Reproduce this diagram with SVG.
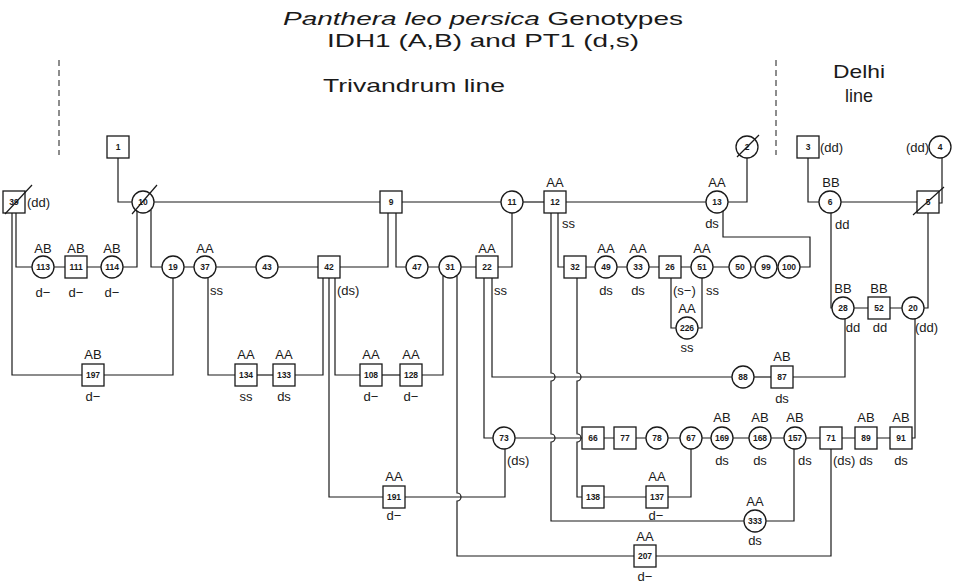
<svg xmlns="http://www.w3.org/2000/svg" width="954" height="585" viewBox="0 0 954 585">
<style>
.n{fill:#fff;stroke:#1a1a1a;stroke-width:1.3}
.c{fill:none;stroke:#1a1a1a;stroke-width:1.2}
.s{stroke:#1a1a1a;stroke-width:1.2}
.d{fill:none;stroke:#1a1a1a;stroke-width:1;stroke-dasharray:6 4}
text{font-family:"Liberation Sans",Arial,sans-serif;fill:#1a1a1a}
.id{font-size:8.5px;text-anchor:middle;font-weight:bold}
.g{font-size:13px;text-anchor:middle}
.gl{font-size:13px;text-anchor:start}
.gr{font-size:13px;text-anchor:end}
.t{font-size:19px;text-anchor:middle}
</style>
<rect width="954" height="585" fill="#fff"/>
<g id="title">
<text class="t" x="483" y="25" textLength="400" lengthAdjust="spacingAndGlyphs"><tspan font-style="italic">Panthera leo persica</tspan> Genotypes</text>
<text class="t" x="483" y="47" textLength="312" lengthAdjust="spacingAndGlyphs">IDH1  (A,B)  and PT1  (d,s)</text>
<text class="t" x="414" y="92" textLength="182" lengthAdjust="spacingAndGlyphs">Trivandrum line</text>
<text class="t" x="859" y="78" textLength="52" lengthAdjust="spacingAndGlyphs">Delhi</text>
<text class="t" x="859" y="102" textLength="28" lengthAdjust="spacingAndGlyphs">line</text>
<line class="d" x1="59" y1="60" x2="59" y2="155"/>
<line class="d" x1="776" y1="60" x2="776" y2="155"/>
</g>
<g id="connectors">
<path class="c" d="M118 158V202H132"/>
<path class="c" d="M154 202H380"/>
<path class="c" d="M402 202H501"/>
<path class="c" d="M523 202H544"/>
<path class="c" d="M566 202H706"/>
<path class="c" d="M747 158V202H728"/>
<path class="c" d="M808 158V202H819"/>
<path class="c" d="M841 202H917"/>
<path class="c" d="M942 158V203H939"/>
<path class="c" d="M16 213V267H32"/>
<path class="c" d="M12 213V375H82"/>
<path class="c" d="M137 211V267H123"/>
<path class="c" d="M151 210V267H162"/>
<path class="c" d="M54 267H65M87 267H101"/>
<path class="c" d="M184 267H194M216 267H256M278 267H318"/>
<path class="c" d="M173 278V375H104"/>
<path class="c" d="M208 278V375H235"/>
<path class="c" d="M257 375H273"/>
<path class="c" d="M388 213V267H340"/>
<path class="c" d="M396 213V267H406"/>
<path class="c" d="M428 267H439M461 267H476"/>
<path class="c" d="M512 213V267H498"/>
<path class="c" d="M323 278V375H295"/>
<path class="c" d="M335 278V375H360"/>
<path class="c" d="M329 278V497H383"/>
<path class="c" d="M443 276V375H422"/>
<path class="c" d="M382 375H400"/>
<path class="c" d="M457 276V493a4 4 0 0 1 0 8V556H634"/>
<path class="c" d="M405 497H505V449"/>
<path class="c" d="M484 278V438H493"/>
<path class="c" d="M492 278V377H732"/>
<path class="c" d="M515 438H582"/>
<path class="c" d="M551 213V373a4 4 0 0 1 0 8V434a4 4 0 0 1 0 8V521H744"/>
<path class="c" d="M558 213V267H564"/>
<path class="c" d="M577 278V373a4 4 0 0 1 0 8V434a4 4 0 0 1 0 8V497H582"/>
<path class="c" d="M586 267H595M617 267H627M649 267H659M681 267H691M713 267H729M751 267H755"/>
<path class="c" d="M671 278V328H676"/>
<path class="c" d="M702 278V328H698"/>
<path class="c" d="M723 211V237H810V267H800"/>
<path class="c" d="M831 213V308H832"/>
<path class="c" d="M928 213V308H924"/>
<path class="c" d="M854 308H868M890 308H902"/>
<path class="c" d="M845 319V377H793"/>
<path class="c" d="M754 377H771"/>
<path class="c" d="M915 319V438H912"/>
<path class="c" d="M604 438H614M636 438H646M668 438H680M702 438H711M733 438H749M771 438H784M806 438H820M842 438H855M877 438H890"/>
<path class="c" d="M691 449V497H668"/>
<path class="c" d="M604 497H646"/>
<path class="c" d="M794 449V521H766"/>
<path class="c" d="M831 449V556H656"/>
</g>
<g id="n1"><rect class="n" x="107" y="136" width="22" height="22"/><text class="id" x="118" y="150">1</text></g>
<g id="n2"><circle class="n" cx="747" cy="147" r="11"/><text class="id" x="747" y="150">2</text><line class="s" x1="737" y1="157" x2="759" y2="135"/></g>
<g id="n3"><rect class="n" x="797" y="136" width="22" height="22"/><text class="id" x="808" y="150">3</text><text class="gl" x="820" y="152">(dd)</text></g>
<g id="n4"><circle class="n" cx="940" cy="147" r="11"/><text class="id" x="940" y="150">4</text><text class="gr" x="929" y="152">(dd)</text></g>
<g id="n39"><rect class="n" x="3" y="191" width="22" height="22"/><text class="id" x="14" y="205">39</text><line class="s" x1="5" y1="214" x2="32" y2="185"/><text class="gl" x="27" y="207">(dd)</text></g>
<g id="n10"><circle class="n" cx="143" cy="202" r="11"/><text class="id" x="143" y="205">10</text><line class="s" x1="132" y1="214" x2="157" y2="185"/></g>
<g id="n9"><rect class="n" x="380" y="191" width="22" height="22"/><text class="id" x="391" y="205">9</text></g>
<g id="n11"><circle class="n" cx="512" cy="202" r="11"/><text class="id" x="512" y="205">11</text></g>
<g id="n12"><rect class="n" x="544" y="191" width="22" height="22"/><text class="id" x="555" y="205">12</text><text class="g" x="555" y="187">AA</text><text class="gl" x="562" y="228">ss</text></g>
<g id="n13"><circle class="n" cx="717" cy="202" r="11"/><text class="id" x="717" y="205">13</text><text class="g" x="717" y="187">AA</text><text class="g" x="712" y="228">ds</text></g>
<g id="n6"><circle class="n" cx="830" cy="202" r="11"/><text class="id" x="830" y="205">6</text><text class="g" x="831" y="187">BB</text><text class="gl" x="835" y="229">dd</text></g>
<g id="n5"><rect class="n" x="917" y="191" width="22" height="22"/><text class="id" x="928" y="205">5</text><line class="s" x1="913" y1="215" x2="944" y2="187"/></g>
<g id="n113"><circle class="n" cx="43" cy="267" r="11"/><text class="id" x="43" y="270">113</text><text class="g" x="43" y="253">AB</text><text class="g" x="43" y="297">d−</text></g>
<g id="n111"><rect class="n" x="65" y="256" width="22" height="22"/><text class="id" x="76" y="270">111</text><text class="g" x="76" y="253">AB</text><text class="g" x="76" y="297">d−</text></g>
<g id="n114"><circle class="n" cx="112" cy="267" r="11"/><text class="id" x="112" y="270">114</text><text class="g" x="112" y="253">AB</text><text class="g" x="112" y="297">d−</text></g>
<g id="n19"><circle class="n" cx="173" cy="267" r="11"/><text class="id" x="173" y="270">19</text></g>
<g id="n37"><circle class="n" cx="205" cy="267" r="11"/><text class="id" x="205" y="270">37</text><text class="g" x="205" y="253">AA</text><text class="gl" x="210" y="295">ss</text></g>
<g id="n43"><circle class="n" cx="267" cy="267" r="11"/><text class="id" x="267" y="270">43</text></g>
<g id="n42"><rect class="n" x="318" y="256" width="22" height="22"/><text class="id" x="329" y="270">42</text><text class="gl" x="337" y="295">(ds)</text></g>
<g id="n47"><circle class="n" cx="417" cy="267" r="11"/><text class="id" x="417" y="270">47</text></g>
<g id="n31"><circle class="n" cx="450" cy="267" r="11"/><text class="id" x="450" y="270">31</text></g>
<g id="n22"><rect class="n" x="476" y="256" width="22" height="22"/><text class="id" x="487" y="270">22</text><text class="g" x="487" y="253">AA</text><text class="gl" x="494" y="295">ss</text></g>
<g id="n32"><rect class="n" x="564" y="256" width="22" height="22"/><text class="id" x="575" y="270">32</text></g>
<g id="n49"><circle class="n" cx="606" cy="267" r="11"/><text class="id" x="606" y="270">49</text><text class="g" x="606" y="253">AA</text><text class="g" x="606" y="295">ds</text></g>
<g id="n33"><circle class="n" cx="638" cy="267" r="11"/><text class="id" x="638" y="270">33</text><text class="g" x="638" y="253">AA</text><text class="g" x="638" y="295">ds</text></g>
<g id="n26"><rect class="n" x="659" y="256" width="22" height="22"/><text class="id" x="670" y="270">26</text><text class="gl" x="673" y="295">(s−)</text></g>
<g id="n51"><circle class="n" cx="702" cy="267" r="11"/><text class="id" x="702" y="270">51</text><text class="g" x="702" y="253">AA</text><text class="gl" x="706" y="295">ss</text></g>
<g id="n50"><circle class="n" cx="740" cy="267" r="11"/><text class="id" x="740" y="270">50</text></g>
<g id="n99"><circle class="n" cx="766" cy="267" r="11"/><text class="id" x="766" y="270">99</text></g>
<g id="n100"><circle class="n" cx="789" cy="267" r="11"/><text class="id" x="789" y="270">100</text></g>
<g id="n226"><circle class="n" cx="687" cy="328" r="11"/><text class="id" x="687" y="331">226</text><text class="g" x="687" y="313">AA</text><text class="g" x="687" y="352">ss</text></g>
<g id="n28"><circle class="n" cx="843" cy="308" r="11"/><text class="id" x="843" y="311">28</text><text class="g" x="843" y="293">BB</text><text class="g" x="853" y="332">dd</text></g>
<g id="n52"><rect class="n" x="868" y="297" width="22" height="22"/><text class="id" x="879" y="311">52</text><text class="g" x="879" y="293">BB</text><text class="g" x="880" y="332">dd</text></g>
<g id="n20"><circle class="n" cx="913" cy="308" r="11"/><text class="id" x="913" y="311">20</text><text class="gl" x="915" y="332">(dd)</text></g>
<g id="n197"><rect class="n" x="82" y="364" width="22" height="22"/><text class="id" x="93" y="378">197</text><text class="g" x="93" y="359">AB</text><text class="g" x="93" y="401">d−</text></g>
<g id="n134"><rect class="n" x="235" y="364" width="22" height="22"/><text class="id" x="246" y="378">134</text><text class="g" x="246" y="359">AA</text><text class="g" x="246" y="401">ss</text></g>
<g id="n133"><rect class="n" x="273" y="364" width="22" height="22"/><text class="id" x="284" y="378">133</text><text class="g" x="284" y="359">AA</text><text class="g" x="284" y="401">ds</text></g>
<g id="n108"><rect class="n" x="360" y="364" width="22" height="22"/><text class="id" x="371" y="378">108</text><text class="g" x="371" y="359">AA</text><text class="g" x="371" y="401">d−</text></g>
<g id="n128"><rect class="n" x="400" y="364" width="22" height="22"/><text class="id" x="411" y="378">128</text><text class="g" x="411" y="359">AA</text><text class="g" x="411" y="401">d−</text></g>
<g id="n88"><circle class="n" cx="743" cy="377" r="11"/><text class="id" x="743" y="380">88</text></g>
<g id="n87"><rect class="n" x="771" y="366" width="22" height="22"/><text class="id" x="782" y="380">87</text><text class="g" x="782" y="361">AB</text><text class="g" x="782" y="403">ds</text></g>
<g id="n73"><circle class="n" cx="504" cy="438" r="11"/><text class="id" x="504" y="441">73</text><text class="gl" x="507" y="465">(ds)</text></g>
<g id="n66"><rect class="n" x="582" y="427" width="22" height="22"/><text class="id" x="593" y="441">66</text></g>
<g id="n77"><rect class="n" x="614" y="427" width="22" height="22"/><text class="id" x="625" y="441">77</text></g>
<g id="n78"><circle class="n" cx="657" cy="438" r="11"/><text class="id" x="657" y="441">78</text></g>
<g id="n67"><circle class="n" cx="691" cy="438" r="11"/><text class="id" x="691" y="441">67</text></g>
<g id="n169"><circle class="n" cx="722" cy="438" r="11"/><text class="id" x="722" y="441">169</text><text class="g" x="722" y="422">AB</text><text class="g" x="722" y="465">ds</text></g>
<g id="n168"><circle class="n" cx="760" cy="438" r="11"/><text class="id" x="760" y="441">168</text><text class="g" x="760" y="422">AB</text><text class="g" x="760" y="465">ds</text></g>
<g id="n157"><circle class="n" cx="795" cy="438" r="11"/><text class="id" x="795" y="441">157</text><text class="g" x="795" y="422">AB</text><text class="gl" x="798" y="465">ds</text></g>
<g id="n71"><rect class="n" x="820" y="427" width="22" height="22"/><text class="id" x="831" y="441">71</text><text class="gl" x="833" y="465">(ds)</text></g>
<g id="n89"><rect class="n" x="855" y="427" width="22" height="22"/><text class="id" x="866" y="441">89</text><text class="g" x="866" y="422">AB</text><text class="g" x="866" y="465">ds</text></g>
<g id="n91"><rect class="n" x="890" y="427" width="22" height="22"/><text class="id" x="901" y="441">91</text><text class="g" x="901" y="422">AB</text><text class="g" x="901" y="465">ds</text></g>
<g id="n138"><rect class="n" x="582" y="486" width="22" height="22"/><text class="id" x="593" y="500">138</text></g>
<g id="n137"><rect class="n" x="646" y="486" width="22" height="22"/><text class="id" x="657" y="500">137</text><text class="g" x="657" y="481">AA</text><text class="g" x="656" y="520">d−</text></g>
<g id="n191"><rect class="n" x="383" y="486" width="22" height="22"/><text class="id" x="394" y="500">191</text><text class="g" x="394" y="481">AA</text><text class="g" x="394" y="520">d−</text></g>
<g id="n333"><circle class="n" cx="755" cy="521" r="11"/><text class="id" x="755" y="524">333</text><text class="g" x="755" y="506">AA</text><text class="g" x="755" y="545">ds</text></g>
<g id="n207"><rect class="n" x="634" y="545" width="22" height="22"/><text class="id" x="645" y="559">207</text><text class="g" x="645" y="541">AA</text><text class="g" x="645" y="581">d−</text></g>
</svg>
